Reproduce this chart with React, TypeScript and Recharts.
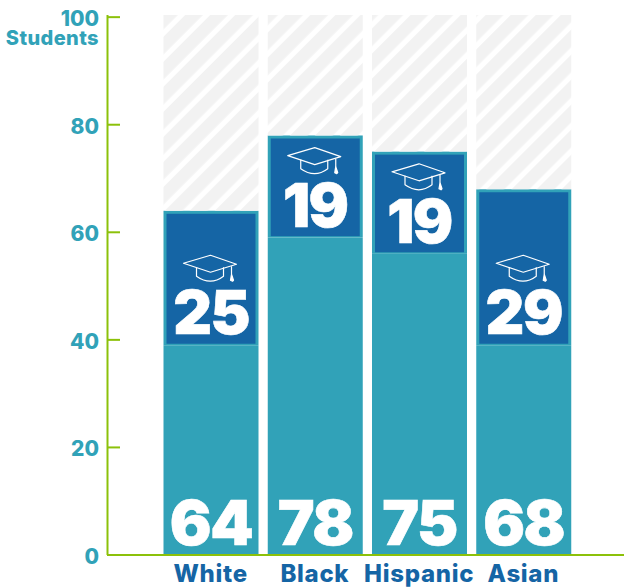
import { BarChart, Bar, XAxis, YAxis, LabelList } from 'recharts';

const groups = ['White', 'Black', 'Hispanic', 'Asian'];
const totals = [64, 78, 75, 68];
const graduates = [25, 19, 19, 29];
const hatchTop = 100.4;
const yTicks = [0, 20, 40, 60, 80, 100];

const TEAL = '#31a2b8';
const BLUE = '#1565a5';
const GREEN = '#8cc10a';
const FONT = 'Inter, "Open Sans", sans-serif';

const rows = groups.map((group, i) => ({
  group,
  total: totals[i],
  graduates: graduates[i],
  others: totals[i] - graduates[i],
  rest: hatchTop - totals[i],
}));

// blue block with teal edge and the mortarboard above the number
const GradBlock = ({ x, y, width, height }: any) => {
  const cx = x + width / 2;
  const b = y + height;
  return (
    <g>
      <rect x={x} y={y} width={width} height={height} fill={TEAL} />
      <rect x={x + 3} y={y + 3} width={width - 6} height={height - 4.5} fill={BLUE} />
      <g transform={`translate(${cx - 0.5},${b - 90})`} fill="none" stroke="#fff" strokeWidth={1.2} strokeLinejoin="round">
        <path d="M0 0 L-27 8 L0 17 L26 9 Z" />
        <path d="M-14 12 V21 Q0 31 13 21 V12" />
        <path d="M21 11 V19" />
        <path d="M21 19 L20 25 L22 26 L23 25 Z" fill="#fff" />
      </g>
    </g>
  );
};

const BigNumber = ({ x, y, width, height, value, size, up, spacing }: any) => (
  <text
    x={x + width / 2}
    y={y + height - up}
    textAnchor="middle"
    fill="#fff"
    fontFamily={FONT}
    fontWeight={900}
    fontSize={size}
    letterSpacing={spacing}
    stroke="#fff"
    strokeWidth={0.6}
  >
    {value}
  </text>
);

// tick runs inwards from the axis, label sits left of it
const YTick = ({ y, payload }: any) => (
  <g>
    <line x1={107} x2={120} y1={y} y2={y} stroke={GREEN} strokeWidth={2} />
    <text x={99} y={y + 9} textAnchor="end" fill={TEAL} fontFamily={FONT} fontWeight={800} fontSize={21}>
      {payload.value}
    </text>
    {payload.value === 100 && (
      <text x={99} y={y + 28} textAnchor="end" fill={TEAL} fontFamily={FONT} fontWeight={800} fontSize={20} letterSpacing={0.4}>
        Students
      </text>
    )}
  </g>
);

export default function App() {
  return (
    <div style={{ position: 'absolute', left: 0, top: 0, width: 624, height: 588, background: '#fff' }}>
      <BarChart
        width={624}
        height={588}
        data={rows}
        margin={{ top: 15, right: 0, bottom: 0, left: 0 }}
        barSize={95}
      >
        <defs>
          <pattern id="hatch" width={17.7} height={17.7} patternUnits="userSpaceOnUse" patternTransform="rotate(45)">
            <rect width={12.5} height={17.7} fill="#f2f2f2" />
          </pattern>
        </defs>
        <XAxis
          dataKey="group"
          interval={0}
          height={33}
          padding={{ left: 51, right: 48.5 }}
          axisLine={{ stroke: GREEN, strokeWidth: 2 }}
          tickLine={false}
          tick={{ fill: BLUE, fontFamily: FONT, fontWeight: 800, fontSize: 24, letterSpacing: 0.7 }}
          tickMargin={4}
        />
        <YAxis
          type="number"
          domain={[0, 100]}
          ticks={yTicks}
          width={107.5}
          axisLine={{ stroke: GREEN, strokeWidth: 2 }}
          tickLine={false}
          tick={<YTick />}
        />
        <Bar dataKey="others" stackId="a" fill={TEAL} isAnimationActive={false}>
          <LabelList dataKey="total" content={(p: any) => <BigNumber {...p} size={62} up={10} spacing={-1.5} />} />
        </Bar>
        <Bar dataKey="graduates" stackId="a" shape={<GradBlock />} isAnimationActive={false}>
          <LabelList dataKey="graduates" content={(p: any) => <BigNumber {...p} size={60} up={11} spacing={-1.5} />} />
        </Bar>
        <Bar dataKey="rest" stackId="a" fill="url(#hatch)" isAnimationActive={false} />
      </BarChart>
    </div>
  );
}
